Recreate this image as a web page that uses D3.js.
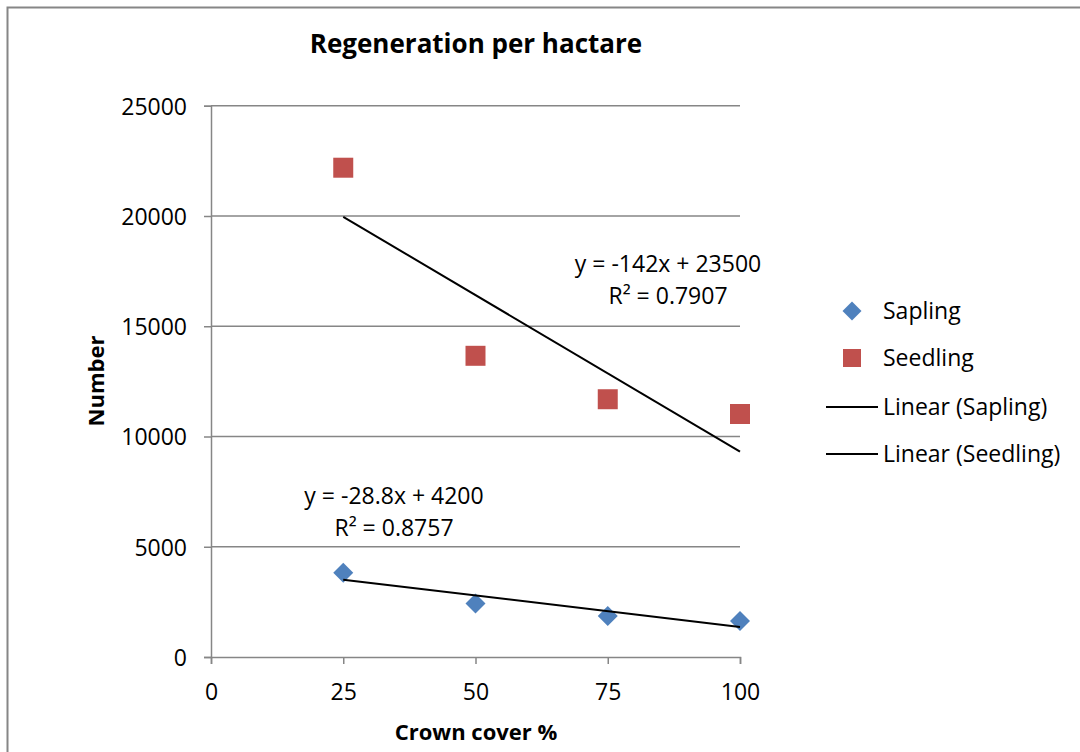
<!DOCTYPE html>
<html>
<head>
<meta charset="utf-8">
<script src="https://cdn.jsdelivr.net/npm/d3@7"></script>
<style>
  html, body { margin: 0; padding: 0; background: #fff; }
  svg { display: block; font-family: "Open Sans", sans-serif; }
</style>
</head>
<body>
<svg id="chart" width="1080" height="752"></svg>
<script>
// ---- data ----
const crownCover = [25, 50, 75, 100];
const sapling = [3820, 2430, 1860, 1630];
const seedling = [22190, 13660, 11690, 11020];
const yTicks = [0, 5000, 10000, 15000, 20000, 25000];
const xTicks = [0, 25, 50, 75, 100];
const titleText = "Regeneration per hactare";
const xTitle = "Crown cover %";
const yTitle = "Number";
const seriesNames = ["Sapling", "Seedling", "Linear (Sapling)", "Linear (Seedling)"];
const saplingEq = ["y = -28.8x + 4200", "R² = 0.8757"];
const seedlingEq = ["y = -142x + 23500", "R² = 0.7907"];

// ---- helpers ----
function linreg(xs, ys) {
  const n = xs.length;
  const mx = d3.mean(xs), my = d3.mean(ys);
  let sxy = 0, sxx = 0;
  for (let i = 0; i < n; i++) { sxy += (xs[i]-mx)*(ys[i]-my); sxx += (xs[i]-mx)**2; }
  const m = sxy / sxx;
  return { m, b: my - m * mx };
}

const svg = d3.select("#chart");
const gray = "#868686";
const blue = "#4F81BD";
const red = "#C0504D";

// outer border (chart area)
svg.append("rect").attr("x", 7.5).attr("y", 7.5).attr("width", 1200).attr("height", 900)
  .attr("fill", "none").attr("stroke", gray).attr("stroke-width", 2);

const x = d3.scaleLinear().domain([0, 100]).range([211, 740]);
const y = d3.scaleLinear().domain([0, 25000]).range([657, 105.75]);

// gridlines
svg.append("g").selectAll("line").data(yTicks.filter(d => d > 0)).join("line")
  .attr("x1", x(0)).attr("x2", x(100))
  .attr("y1", d => y(d)).attr("y2", d => y(d))
  .attr("stroke", gray).attr("stroke-width", 1.5);

// y axis
const yAxis = d3.axisLeft(y).tickValues(yTicks).tickSize(7).tickPadding(17).tickFormat(d3.format("d"));
const gy = svg.append("g").attr("transform", `translate(${x(0)},0)`).call(yAxis);
gy.select(".domain").attr("stroke", gray).attr("stroke-width", 1.5);
gy.selectAll(".tick line").attr("stroke", gray).attr("stroke-width", 1.5);
gy.selectAll(".tick text").attr("font-size", 23).attr("font-family", "Open Sans, sans-serif")
  .attr("fill", "#000").attr("dy", "0.36em");

// x axis
const xAxis = d3.axisBottom(x).tickValues(xTicks).tickSize(7).tickPadding(0).tickFormat(d3.format("d"));
const gx = svg.append("g").attr("transform", `translate(0,${y(0)})`).call(xAxis);
gx.select(".domain").attr("stroke", gray).attr("stroke-width", 1.5);
gx.selectAll(".tick line").attr("stroke", gray).attr("stroke-width", 1.5);
gx.selectAll(".tick text").attr("font-size", 23).attr("font-family", "Open Sans, sans-serif")
  .attr("fill", "#000").attr("dy", null).attr("y", 43);

// trendlines
function trend(vals) {
  const r = linreg(crownCover, vals);
  const x0 = d3.min(crownCover), x1 = d3.max(crownCover);
  return [[x0, r.m*x0 + r.b], [x1, r.m*x1 + r.b]];
}
const line = d3.line().x(d => x(d[0])).y(d => y(d[1]));

// seedling markers
const sq = d3.symbol().type(d3.symbolSquare).size(400);
svg.append("g").selectAll("path").data(crownCover.map((c, i) => [c, seedling[i]])).join("path")
  .attr("d", sq).attr("transform", d => `translate(${x(d[0])},${y(d[1])})`)
  .attr("fill", red);

// sapling markers (diamond)
const dia = d3.symbol().type(d3.symbolSquare).size(200);
svg.append("g").selectAll("path").data(crownCover.map((c, i) => [c, sapling[i]])).join("path")
  .attr("d", dia).attr("transform", d => `translate(${x(d[0])},${y(d[1])}) rotate(45)`)
  .attr("fill", blue);

svg.append("path").datum(trend(sapling)).attr("d", line)
  .attr("fill", "none").attr("stroke", "#000").attr("stroke-width", 2);
svg.append("path").datum(trend(seedling)).attr("d", line)
  .attr("fill", "none").attr("stroke", "#000").attr("stroke-width", 2);

// equation labels
function eq(lines, cx, by) {
  svg.append("g").selectAll("text").data(lines).join("text")
    .attr("x", cx).attr("y", (d, i) => by + i * 31.5)
    .attr("text-anchor", "middle").attr("font-size", 23).attr("fill", "#000")
    .text(d => d);
}
eq(seedlingEq, 668, 272);
eq(saplingEq, 394, 504);

// title
svg.append("text").attr("x", 476).attr("y", 53).attr("text-anchor", "middle")
  .attr("font-size", 26).attr("font-weight", "bold").text(titleText);

// axis titles
svg.append("text").attr("x", 476).attr("y", 740).attr("text-anchor", "middle")
  .attr("font-size", 22).attr("font-weight", "bold").text(xTitle);
svg.append("text").attr("transform", "translate(104,381) rotate(-90)").attr("text-anchor", "middle")
  .attr("font-size", 22).attr("font-weight", "bold").text(yTitle);

// legend
const lg = svg.append("g");
const legY = [311, 358, 407, 454];
lg.append("path").attr("d", d3.symbol().type(d3.symbolSquare).size(180))
  .attr("transform", `translate(852,${legY[0]}) rotate(45)`).attr("fill", blue);
lg.append("path").attr("d", d3.symbol().type(d3.symbolSquare).size(324))
  .attr("transform", `translate(852,${legY[1]})`).attr("fill", red);
lg.append("line").attr("x1", 826).attr("x2", 878).attr("y1", legY[2]).attr("y2", legY[2])
  .attr("stroke", "#000").attr("stroke-width", 2);
lg.append("line").attr("x1", 826).attr("x2", 878).attr("y1", legY[3]).attr("y2", legY[3])
  .attr("stroke", "#000").attr("stroke-width", 2);
lg.selectAll("text").data(seriesNames).join("text")
  .attr("x", 883).attr("y", (d, i) => legY[i]).attr("dy", "0.36em")
  .attr("font-size", 23).attr("fill", "#000").text(d => d);
</script>
</body>
</html>
